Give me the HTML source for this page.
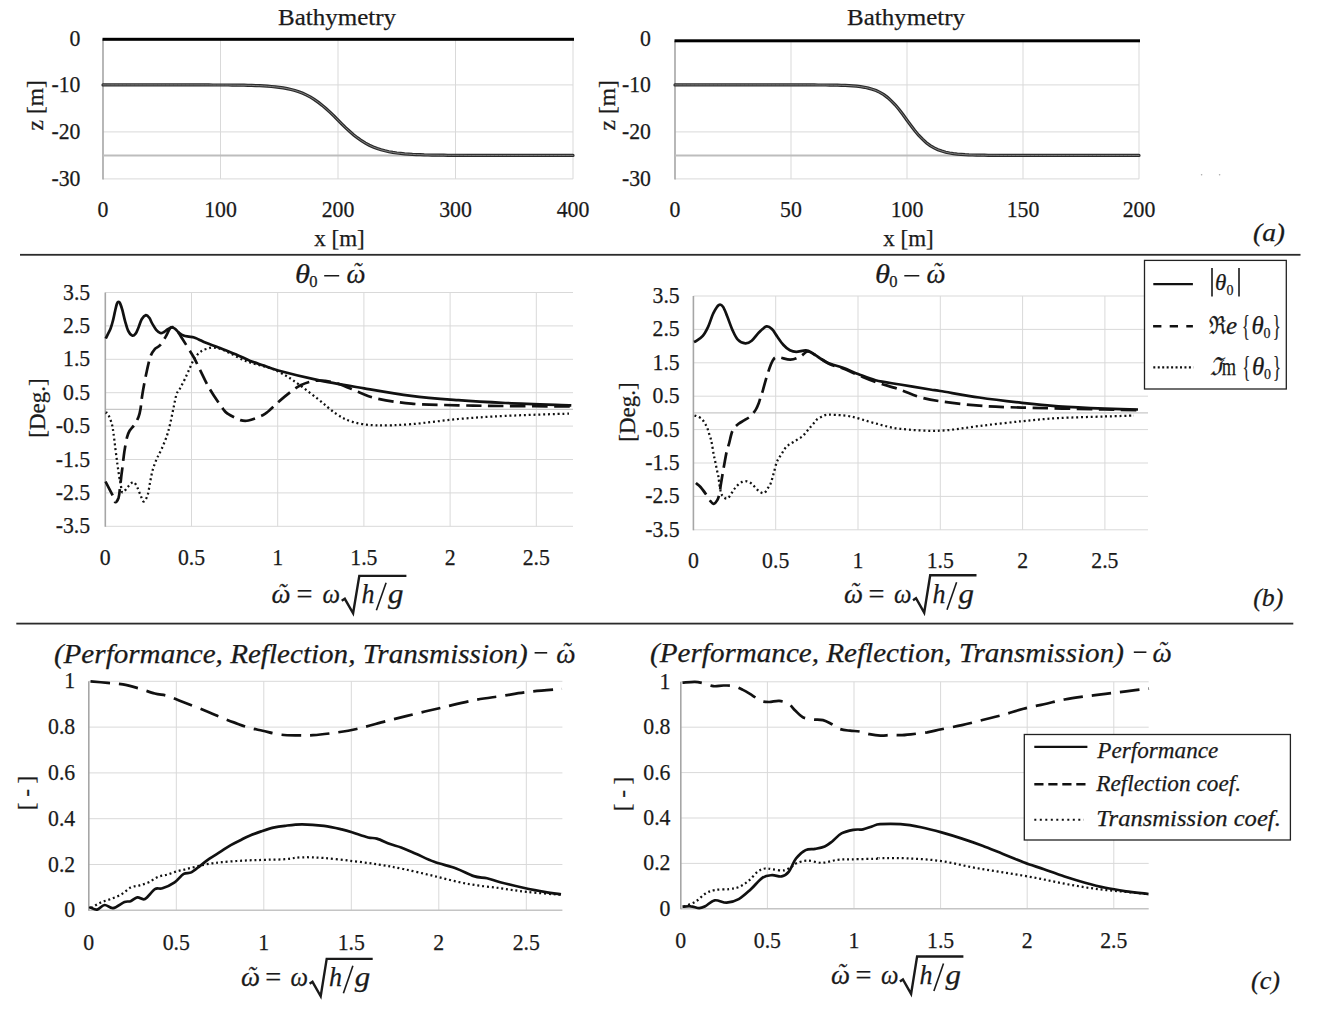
<!DOCTYPE html>
<html><head><meta charset="utf-8"><style>
html,body{margin:0;padding:0;background:#fff;}
svg{display:block;}
text{font-family:"Liberation Serif", serif; stroke:#1a1a1a; stroke-width:0.25px;}
</style></head><body>
<svg width="1317" height="1012" viewBox="0 0 1317 1012" font-family="Liberation Serif, serif">
<rect width="1317" height="1012" fill="#fff"/>
<rect x="20" y="253.9" width="1280.5" height="1.8" fill="#2b2b2b"/>
<rect x="16.3" y="622.7" width="1277" height="1.8" fill="#2b2b2b"/>
<line x1="220.5" y1="39.3" x2="220.5" y2="178.9" stroke="#d9d9d9" stroke-width="1"/>
<line x1="338.0" y1="39.3" x2="338.0" y2="178.9" stroke="#d9d9d9" stroke-width="1"/>
<line x1="455.5" y1="39.3" x2="455.5" y2="178.9" stroke="#d9d9d9" stroke-width="1"/>
<line x1="573.0" y1="39.3" x2="573.0" y2="178.9" stroke="#d9d9d9" stroke-width="1"/>
<line x1="103.0" y1="84.9" x2="573.0" y2="84.9" stroke="#d9d9d9" stroke-width="1"/>
<line x1="103.0" y1="131.9" x2="573.0" y2="131.9" stroke="#d9d9d9" stroke-width="1"/>
<line x1="103.0" y1="178.9" x2="573.0" y2="178.9" stroke="#d9d9d9" stroke-width="1"/>
<line x1="103.0" y1="39.3" x2="103.0" y2="179.4" stroke="#a6a6a6" stroke-width="1.6"/>
<line x1="103.0" y1="155.4" x2="573.0" y2="155.4" stroke="#bdbdbd" stroke-width="2"/>
<path d="M103.0,84.9 L106.9,84.9 L110.8,84.9 L114.8,84.9 L118.7,84.9 L122.6,84.9 L126.5,84.9 L130.4,84.9 L134.3,84.9 L138.2,84.9 L142.2,84.9 L146.1,84.9 L150.0,84.9 L153.9,84.9 L157.8,84.9 L161.8,84.9 L165.7,84.9 L169.6,84.9 L173.5,84.9 L177.4,84.9 L181.3,84.9 L185.2,84.9 L189.2,84.9 L193.1,84.9 L197.0,84.9 L200.9,84.9 L204.8,84.9 L208.8,84.9 L212.7,85.0 L216.6,85.0 L220.5,85.0 L224.4,85.0 L228.3,85.0 L232.2,85.1 L236.2,85.1 L240.1,85.2 L244.0,85.2 L247.9,85.3 L251.8,85.4 L255.8,85.6 L259.7,85.7 L263.6,85.9 L267.5,86.2 L271.4,86.5 L275.3,86.9 L279.2,87.3 L283.2,87.9 L287.1,88.6 L291.0,89.5 L294.9,90.5 L298.8,91.8 L302.8,93.3 L306.7,95.1 L310.6,97.2 L314.5,99.6 L318.4,102.4 L322.3,105.4 L326.2,108.8 L330.2,112.4 L334.1,116.2 L338.0,120.2 L341.9,124.1 L345.8,127.9 L349.8,131.5 L353.7,134.9 L357.6,137.9 L361.5,140.7 L365.4,143.1 L369.3,145.2 L373.2,147.0 L377.2,148.5 L381.1,149.8 L385.0,150.8 L388.9,151.7 L392.8,152.4 L396.8,153.0 L400.7,153.4 L404.6,153.8 L408.5,154.1 L412.4,154.4 L416.3,154.6 L420.2,154.7 L424.2,154.9 L428.1,155.0 L432.0,155.1 L435.9,155.1 L439.8,155.2 L443.8,155.2 L447.7,155.3 L451.6,155.3 L455.5,155.3 L459.4,155.3 L463.3,155.3 L467.2,155.4 L471.2,155.4 L475.1,155.4 L479.0,155.4 L482.9,155.4 L486.8,155.4 L490.8,155.4 L494.7,155.4 L498.6,155.4 L502.5,155.4 L506.4,155.4 L510.3,155.4 L514.2,155.4 L518.2,155.4 L522.1,155.4 L526.0,155.4 L529.9,155.4 L533.8,155.4 L537.8,155.4 L541.7,155.4 L545.6,155.4 L549.5,155.4 L553.4,155.4 L557.3,155.4 L561.2,155.4 L565.2,155.4 L569.1,155.4 L573.0,155.4" fill="none" stroke="#2a2a2a" stroke-width="3.2" stroke-linecap="round"/>
<path d="M103.0,84.9 L106.9,84.9 L110.8,84.9 L114.8,84.9 L118.7,84.9 L122.6,84.9 L126.5,84.9 L130.4,84.9 L134.3,84.9 L138.2,84.9 L142.2,84.9 L146.1,84.9 L150.0,84.9 L153.9,84.9 L157.8,84.9 L161.8,84.9 L165.7,84.9 L169.6,84.9 L173.5,84.9 L177.4,84.9 L181.3,84.9 L185.2,84.9 L189.2,84.9 L193.1,84.9 L197.0,84.9 L200.9,84.9 L204.8,84.9 L208.8,84.9 L212.7,85.0 L216.6,85.0 L220.5,85.0 L224.4,85.0 L228.3,85.0 L232.2,85.1 L236.2,85.1 L240.1,85.2 L244.0,85.2 L247.9,85.3 L251.8,85.4 L255.8,85.6 L259.7,85.7 L263.6,85.9 L267.5,86.2 L271.4,86.5 L275.3,86.9 L279.2,87.3 L283.2,87.9 L287.1,88.6 L291.0,89.5 L294.9,90.5 L298.8,91.8 L302.8,93.3 L306.7,95.1 L310.6,97.2 L314.5,99.6 L318.4,102.4 L322.3,105.4 L326.2,108.8 L330.2,112.4 L334.1,116.2 L338.0,120.2 L341.9,124.1 L345.8,127.9 L349.8,131.5 L353.7,134.9 L357.6,137.9 L361.5,140.7 L365.4,143.1 L369.3,145.2 L373.2,147.0 L377.2,148.5 L381.1,149.8 L385.0,150.8 L388.9,151.7 L392.8,152.4 L396.8,153.0 L400.7,153.4 L404.6,153.8 L408.5,154.1 L412.4,154.4 L416.3,154.6 L420.2,154.7 L424.2,154.9 L428.1,155.0 L432.0,155.1 L435.9,155.1 L439.8,155.2 L443.8,155.2 L447.7,155.3 L451.6,155.3 L455.5,155.3 L459.4,155.3 L463.3,155.3 L467.2,155.4 L471.2,155.4 L475.1,155.4 L479.0,155.4 L482.9,155.4 L486.8,155.4 L490.8,155.4 L494.7,155.4 L498.6,155.4 L502.5,155.4 L506.4,155.4 L510.3,155.4 L514.2,155.4 L518.2,155.4 L522.1,155.4 L526.0,155.4 L529.9,155.4 L533.8,155.4 L537.8,155.4 L541.7,155.4 L545.6,155.4 L549.5,155.4 L553.4,155.4 L557.3,155.4 L561.2,155.4 L565.2,155.4 L569.1,155.4 L573.0,155.4" fill="none" stroke="#8c8c8c" stroke-width="0.9" stroke-linecap="round"/>
<rect x="102.5" y="37.8" width="471.5" height="3.0" fill="#000"/>
<text x="80.5" y="45.6" font-size="23.5" text-anchor="end" textLength="10.9" lengthAdjust="spacingAndGlyphs" fill="#1a1a1a">0</text>
<text x="80.5" y="92.2" font-size="23.5" text-anchor="end" textLength="29.0" lengthAdjust="spacingAndGlyphs" fill="#1a1a1a">-10</text>
<text x="80.5" y="139.2" font-size="23.5" text-anchor="end" textLength="29.0" lengthAdjust="spacingAndGlyphs" fill="#1a1a1a">-20</text>
<text x="80.5" y="186.2" font-size="23.5" text-anchor="end" textLength="29.0" lengthAdjust="spacingAndGlyphs" fill="#1a1a1a">-30</text>
<text x="103.0" y="216.7" font-size="23.5" text-anchor="middle" textLength="10.9" lengthAdjust="spacingAndGlyphs" fill="#1a1a1a">0</text>
<text x="220.5" y="216.7" font-size="23.5" text-anchor="middle" textLength="32.7" lengthAdjust="spacingAndGlyphs" fill="#1a1a1a">100</text>
<text x="338.0" y="216.7" font-size="23.5" text-anchor="middle" textLength="32.7" lengthAdjust="spacingAndGlyphs" fill="#1a1a1a">200</text>
<text x="455.5" y="216.7" font-size="23.5" text-anchor="middle" textLength="32.7" lengthAdjust="spacingAndGlyphs" fill="#1a1a1a">300</text>
<text x="573.0" y="216.7" font-size="23.5" text-anchor="middle" textLength="32.7" lengthAdjust="spacingAndGlyphs" fill="#1a1a1a">400</text>
<text x="339.5" y="245.6" font-size="23" text-anchor="middle" fill="#1a1a1a" >x [m]</text>
<text x="0" y="0" font-size="23.5" text-anchor="middle" fill="#1a1a1a" transform="translate(34.8,105.3) rotate(-90)" dominant-baseline="central">z [m]</text>
<text x="337.0" y="24.8" font-size="24" text-anchor="middle" textLength="118" lengthAdjust="spacingAndGlyphs" fill="#1a1a1a" >Bathymetry</text>
<line x1="791.0" y1="40.8" x2="791.0" y2="178.9" stroke="#d9d9d9" stroke-width="1"/>
<line x1="907.0" y1="40.8" x2="907.0" y2="178.9" stroke="#d9d9d9" stroke-width="1"/>
<line x1="1023.0" y1="40.8" x2="1023.0" y2="178.9" stroke="#d9d9d9" stroke-width="1"/>
<line x1="1139.0" y1="40.8" x2="1139.0" y2="178.9" stroke="#d9d9d9" stroke-width="1"/>
<line x1="675.0" y1="84.9" x2="1139.0" y2="84.9" stroke="#d9d9d9" stroke-width="1"/>
<line x1="675.0" y1="131.9" x2="1139.0" y2="131.9" stroke="#d9d9d9" stroke-width="1"/>
<line x1="675.0" y1="178.9" x2="1139.0" y2="178.9" stroke="#d9d9d9" stroke-width="1"/>
<line x1="675.0" y1="40.8" x2="675.0" y2="179.4" stroke="#a6a6a6" stroke-width="1.6"/>
<line x1="675.0" y1="155.4" x2="1139.0" y2="155.4" stroke="#bdbdbd" stroke-width="2"/>
<path d="M675.0,84.9 L678.9,84.9 L682.7,84.9 L686.6,84.9 L690.5,84.9 L694.3,84.9 L698.2,84.9 L702.1,84.9 L705.9,84.9 L709.8,84.9 L713.7,84.9 L717.5,84.9 L721.4,84.9 L725.3,84.9 L729.1,84.9 L733.0,84.9 L736.9,84.9 L740.7,84.9 L744.6,84.9 L748.5,84.9 L752.3,84.9 L756.2,84.9 L760.1,84.9 L763.9,84.9 L767.8,84.9 L771.7,84.9 L775.5,84.9 L779.4,84.9 L783.3,84.9 L787.1,84.9 L791.0,84.9 L794.9,84.9 L798.7,84.9 L802.6,84.9 L806.5,84.9 L810.3,84.9 L814.2,84.9 L818.1,85.0 L821.9,85.0 L825.8,85.0 L829.7,85.1 L833.5,85.1 L837.4,85.2 L841.3,85.3 L845.1,85.4 L849.0,85.6 L852.9,85.9 L856.7,86.2 L860.6,86.7 L864.5,87.3 L868.3,88.1 L872.2,89.2 L876.1,90.6 L879.9,92.4 L883.8,94.7 L887.7,97.6 L891.5,101.1 L895.4,105.1 L899.3,109.8 L903.1,114.8 L907.0,120.2 L910.9,125.5 L914.7,130.5 L918.6,135.2 L922.5,139.2 L926.3,142.7 L930.2,145.6 L934.1,147.9 L937.9,149.7 L941.8,151.1 L945.7,152.2 L949.5,153.0 L953.4,153.6 L957.3,154.1 L961.1,154.4 L965.0,154.7 L968.9,154.9 L972.7,155.0 L976.6,155.1 L980.5,155.2 L984.3,155.2 L988.2,155.3 L992.1,155.3 L995.9,155.3 L999.8,155.4 L1003.7,155.4 L1007.5,155.4 L1011.4,155.4 L1015.3,155.4 L1019.1,155.4 L1023.0,155.4 L1026.9,155.4 L1030.7,155.4 L1034.6,155.4 L1038.5,155.4 L1042.3,155.4 L1046.2,155.4 L1050.1,155.4 L1053.9,155.4 L1057.8,155.4 L1061.7,155.4 L1065.5,155.4 L1069.4,155.4 L1073.3,155.4 L1077.1,155.4 L1081.0,155.4 L1084.9,155.4 L1088.7,155.4 L1092.6,155.4 L1096.5,155.4 L1100.3,155.4 L1104.2,155.4 L1108.1,155.4 L1111.9,155.4 L1115.8,155.4 L1119.7,155.4 L1123.5,155.4 L1127.4,155.4 L1131.3,155.4 L1135.1,155.4 L1139.0,155.4" fill="none" stroke="#2a2a2a" stroke-width="3.2" stroke-linecap="round"/>
<path d="M675.0,84.9 L678.9,84.9 L682.7,84.9 L686.6,84.9 L690.5,84.9 L694.3,84.9 L698.2,84.9 L702.1,84.9 L705.9,84.9 L709.8,84.9 L713.7,84.9 L717.5,84.9 L721.4,84.9 L725.3,84.9 L729.1,84.9 L733.0,84.9 L736.9,84.9 L740.7,84.9 L744.6,84.9 L748.5,84.9 L752.3,84.9 L756.2,84.9 L760.1,84.9 L763.9,84.9 L767.8,84.9 L771.7,84.9 L775.5,84.9 L779.4,84.9 L783.3,84.9 L787.1,84.9 L791.0,84.9 L794.9,84.9 L798.7,84.9 L802.6,84.9 L806.5,84.9 L810.3,84.9 L814.2,84.9 L818.1,85.0 L821.9,85.0 L825.8,85.0 L829.7,85.1 L833.5,85.1 L837.4,85.2 L841.3,85.3 L845.1,85.4 L849.0,85.6 L852.9,85.9 L856.7,86.2 L860.6,86.7 L864.5,87.3 L868.3,88.1 L872.2,89.2 L876.1,90.6 L879.9,92.4 L883.8,94.7 L887.7,97.6 L891.5,101.1 L895.4,105.1 L899.3,109.8 L903.1,114.8 L907.0,120.2 L910.9,125.5 L914.7,130.5 L918.6,135.2 L922.5,139.2 L926.3,142.7 L930.2,145.6 L934.1,147.9 L937.9,149.7 L941.8,151.1 L945.7,152.2 L949.5,153.0 L953.4,153.6 L957.3,154.1 L961.1,154.4 L965.0,154.7 L968.9,154.9 L972.7,155.0 L976.6,155.1 L980.5,155.2 L984.3,155.2 L988.2,155.3 L992.1,155.3 L995.9,155.3 L999.8,155.4 L1003.7,155.4 L1007.5,155.4 L1011.4,155.4 L1015.3,155.4 L1019.1,155.4 L1023.0,155.4 L1026.9,155.4 L1030.7,155.4 L1034.6,155.4 L1038.5,155.4 L1042.3,155.4 L1046.2,155.4 L1050.1,155.4 L1053.9,155.4 L1057.8,155.4 L1061.7,155.4 L1065.5,155.4 L1069.4,155.4 L1073.3,155.4 L1077.1,155.4 L1081.0,155.4 L1084.9,155.4 L1088.7,155.4 L1092.6,155.4 L1096.5,155.4 L1100.3,155.4 L1104.2,155.4 L1108.1,155.4 L1111.9,155.4 L1115.8,155.4 L1119.7,155.4 L1123.5,155.4 L1127.4,155.4 L1131.3,155.4 L1135.1,155.4 L1139.0,155.4" fill="none" stroke="#8c8c8c" stroke-width="0.9" stroke-linecap="round"/>
<rect x="674.5" y="39.3" width="465.5" height="3.0" fill="#000"/>
<text x="651.0" y="45.6" font-size="23.5" text-anchor="end" textLength="10.9" lengthAdjust="spacingAndGlyphs" fill="#1a1a1a">0</text>
<text x="651.0" y="92.2" font-size="23.5" text-anchor="end" textLength="29.0" lengthAdjust="spacingAndGlyphs" fill="#1a1a1a">-10</text>
<text x="651.0" y="139.2" font-size="23.5" text-anchor="end" textLength="29.0" lengthAdjust="spacingAndGlyphs" fill="#1a1a1a">-20</text>
<text x="651.0" y="186.2" font-size="23.5" text-anchor="end" textLength="29.0" lengthAdjust="spacingAndGlyphs" fill="#1a1a1a">-30</text>
<text x="675.0" y="216.7" font-size="23.5" text-anchor="middle" textLength="10.9" lengthAdjust="spacingAndGlyphs" fill="#1a1a1a">0</text>
<text x="791.0" y="216.7" font-size="23.5" text-anchor="middle" textLength="21.8" lengthAdjust="spacingAndGlyphs" fill="#1a1a1a">50</text>
<text x="907.0" y="216.7" font-size="23.5" text-anchor="middle" textLength="32.7" lengthAdjust="spacingAndGlyphs" fill="#1a1a1a">100</text>
<text x="1023.0" y="216.7" font-size="23.5" text-anchor="middle" textLength="32.7" lengthAdjust="spacingAndGlyphs" fill="#1a1a1a">150</text>
<text x="1139.0" y="216.7" font-size="23.5" text-anchor="middle" textLength="32.7" lengthAdjust="spacingAndGlyphs" fill="#1a1a1a">200</text>
<text x="908.5" y="245.6" font-size="23" text-anchor="middle" fill="#1a1a1a" >x [m]</text>
<text x="0" y="0" font-size="23.5" text-anchor="middle" fill="#1a1a1a" transform="translate(606.8,105.3) rotate(-90)" dominant-baseline="central">z [m]</text>
<text x="906.0" y="24.8" font-size="24" text-anchor="middle" textLength="118" lengthAdjust="spacingAndGlyphs" fill="#1a1a1a" >Bathymetry</text>
<text x="1253.0" y="240.5" font-size="25" text-anchor="start" font-style="italic" textLength="32" lengthAdjust="spacingAndGlyphs" fill="#1a1a1a" >(a)</text>
<circle cx="1201.6" cy="174.7" r="0.8" fill="#aaa"/><circle cx="1219.6" cy="174.7" r="0.8" fill="#aaa"/>
<line x1="191.5" y1="292.5" x2="191.5" y2="526.3" stroke="#d9d9d9" stroke-width="1"/>
<line x1="277.7" y1="292.5" x2="277.7" y2="526.3" stroke="#d9d9d9" stroke-width="1"/>
<line x1="363.9" y1="292.5" x2="363.9" y2="526.3" stroke="#d9d9d9" stroke-width="1"/>
<line x1="450.1" y1="292.5" x2="450.1" y2="526.3" stroke="#d9d9d9" stroke-width="1"/>
<line x1="536.3" y1="292.5" x2="536.3" y2="526.3" stroke="#d9d9d9" stroke-width="1"/>
<line x1="105.3" y1="292.5" x2="573.0" y2="292.5" stroke="#d9d9d9" stroke-width="1"/>
<line x1="105.3" y1="325.9" x2="573.0" y2="325.9" stroke="#d9d9d9" stroke-width="1"/>
<line x1="105.3" y1="359.3" x2="573.0" y2="359.3" stroke="#d9d9d9" stroke-width="1"/>
<line x1="105.3" y1="392.7" x2="573.0" y2="392.7" stroke="#d9d9d9" stroke-width="1"/>
<line x1="105.3" y1="426.1" x2="573.0" y2="426.1" stroke="#d9d9d9" stroke-width="1"/>
<line x1="105.3" y1="459.5" x2="573.0" y2="459.5" stroke="#d9d9d9" stroke-width="1"/>
<line x1="105.3" y1="492.9" x2="573.0" y2="492.9" stroke="#d9d9d9" stroke-width="1"/>
<line x1="105.3" y1="526.3" x2="573.0" y2="526.3" stroke="#d9d9d9" stroke-width="1"/>
<line x1="105.3" y1="409.4" x2="573.0" y2="409.4" stroke="#c8c8c8" stroke-width="1.2"/>
<line x1="105.3" y1="292.5" x2="105.3" y2="526.8" stroke="#a6a6a6" stroke-width="1.6"/>
<text x="90.2" y="299.5" font-size="23.5" text-anchor="end" textLength="27.2" lengthAdjust="spacingAndGlyphs" fill="#1a1a1a">3.5</text>
<text x="90.2" y="332.9" font-size="23.5" text-anchor="end" textLength="27.2" lengthAdjust="spacingAndGlyphs" fill="#1a1a1a">2.5</text>
<text x="90.2" y="366.3" font-size="23.5" text-anchor="end" textLength="27.2" lengthAdjust="spacingAndGlyphs" fill="#1a1a1a">1.5</text>
<text x="90.2" y="399.7" font-size="23.5" text-anchor="end" textLength="27.2" lengthAdjust="spacingAndGlyphs" fill="#1a1a1a">0.5</text>
<text x="90.2" y="433.1" font-size="23.5" text-anchor="end" textLength="34.5" lengthAdjust="spacingAndGlyphs" fill="#1a1a1a">-0.5</text>
<text x="90.2" y="466.5" font-size="23.5" text-anchor="end" textLength="34.5" lengthAdjust="spacingAndGlyphs" fill="#1a1a1a">-1.5</text>
<text x="90.2" y="499.9" font-size="23.5" text-anchor="end" textLength="34.5" lengthAdjust="spacingAndGlyphs" fill="#1a1a1a">-2.5</text>
<text x="90.2" y="533.3" font-size="23.5" text-anchor="end" textLength="34.5" lengthAdjust="spacingAndGlyphs" fill="#1a1a1a">-3.5</text>
<text x="105.3" y="564.8" font-size="23.5" text-anchor="middle" textLength="10.9" lengthAdjust="spacingAndGlyphs" fill="#1a1a1a">0</text>
<text x="191.5" y="564.8" font-size="23.5" text-anchor="middle" textLength="27.2" lengthAdjust="spacingAndGlyphs" fill="#1a1a1a">0.5</text>
<text x="277.7" y="564.8" font-size="23.5" text-anchor="middle" textLength="10.9" lengthAdjust="spacingAndGlyphs" fill="#1a1a1a">1</text>
<text x="363.9" y="564.8" font-size="23.5" text-anchor="middle" textLength="27.2" lengthAdjust="spacingAndGlyphs" fill="#1a1a1a">1.5</text>
<text x="450.1" y="564.8" font-size="23.5" text-anchor="middle" textLength="10.9" lengthAdjust="spacingAndGlyphs" fill="#1a1a1a">2</text>
<text x="536.3" y="564.8" font-size="23.5" text-anchor="middle" textLength="27.2" lengthAdjust="spacingAndGlyphs" fill="#1a1a1a">2.5</text>
<text x="0" y="0" font-size="23" text-anchor="middle" fill="#1a1a1a" transform="translate(37.6,408.0) rotate(-90)" dominant-baseline="central">[Deg.]</text>
<line x1="775.7" y1="296.0" x2="775.7" y2="529.8" stroke="#d9d9d9" stroke-width="1"/>
<line x1="858.0" y1="296.0" x2="858.0" y2="529.8" stroke="#d9d9d9" stroke-width="1"/>
<line x1="940.3" y1="296.0" x2="940.3" y2="529.8" stroke="#d9d9d9" stroke-width="1"/>
<line x1="1022.6" y1="296.0" x2="1022.6" y2="529.8" stroke="#d9d9d9" stroke-width="1"/>
<line x1="1104.9" y1="296.0" x2="1104.9" y2="529.8" stroke="#d9d9d9" stroke-width="1"/>
<line x1="693.4" y1="296.0" x2="1148.0" y2="296.0" stroke="#d9d9d9" stroke-width="1"/>
<line x1="693.4" y1="329.4" x2="1148.0" y2="329.4" stroke="#d9d9d9" stroke-width="1"/>
<line x1="693.4" y1="362.8" x2="1148.0" y2="362.8" stroke="#d9d9d9" stroke-width="1"/>
<line x1="693.4" y1="396.2" x2="1148.0" y2="396.2" stroke="#d9d9d9" stroke-width="1"/>
<line x1="693.4" y1="429.6" x2="1148.0" y2="429.6" stroke="#d9d9d9" stroke-width="1"/>
<line x1="693.4" y1="463.0" x2="1148.0" y2="463.0" stroke="#d9d9d9" stroke-width="1"/>
<line x1="693.4" y1="496.4" x2="1148.0" y2="496.4" stroke="#d9d9d9" stroke-width="1"/>
<line x1="693.4" y1="529.8" x2="1148.0" y2="529.8" stroke="#d9d9d9" stroke-width="1"/>
<line x1="693.4" y1="412.9" x2="1148.0" y2="412.9" stroke="#c8c8c8" stroke-width="1.2"/>
<line x1="693.4" y1="296.0" x2="693.4" y2="530.3" stroke="#a6a6a6" stroke-width="1.6"/>
<text x="679.7" y="303.0" font-size="23.5" text-anchor="end" textLength="27.2" lengthAdjust="spacingAndGlyphs" fill="#1a1a1a">3.5</text>
<text x="679.7" y="336.4" font-size="23.5" text-anchor="end" textLength="27.2" lengthAdjust="spacingAndGlyphs" fill="#1a1a1a">2.5</text>
<text x="679.7" y="369.8" font-size="23.5" text-anchor="end" textLength="27.2" lengthAdjust="spacingAndGlyphs" fill="#1a1a1a">1.5</text>
<text x="679.7" y="403.2" font-size="23.5" text-anchor="end" textLength="27.2" lengthAdjust="spacingAndGlyphs" fill="#1a1a1a">0.5</text>
<text x="679.7" y="436.6" font-size="23.5" text-anchor="end" textLength="34.5" lengthAdjust="spacingAndGlyphs" fill="#1a1a1a">-0.5</text>
<text x="679.7" y="470.0" font-size="23.5" text-anchor="end" textLength="34.5" lengthAdjust="spacingAndGlyphs" fill="#1a1a1a">-1.5</text>
<text x="679.7" y="503.4" font-size="23.5" text-anchor="end" textLength="34.5" lengthAdjust="spacingAndGlyphs" fill="#1a1a1a">-2.5</text>
<text x="679.7" y="536.8" font-size="23.5" text-anchor="end" textLength="34.5" lengthAdjust="spacingAndGlyphs" fill="#1a1a1a">-3.5</text>
<text x="693.4" y="568.3" font-size="23.5" text-anchor="middle" textLength="10.9" lengthAdjust="spacingAndGlyphs" fill="#1a1a1a">0</text>
<text x="775.7" y="568.3" font-size="23.5" text-anchor="middle" textLength="27.2" lengthAdjust="spacingAndGlyphs" fill="#1a1a1a">0.5</text>
<text x="858.0" y="568.3" font-size="23.5" text-anchor="middle" textLength="10.9" lengthAdjust="spacingAndGlyphs" fill="#1a1a1a">1</text>
<text x="940.3" y="568.3" font-size="23.5" text-anchor="middle" textLength="27.2" lengthAdjust="spacingAndGlyphs" fill="#1a1a1a">1.5</text>
<text x="1022.6" y="568.3" font-size="23.5" text-anchor="middle" textLength="10.9" lengthAdjust="spacingAndGlyphs" fill="#1a1a1a">2</text>
<text x="1104.9" y="568.3" font-size="23.5" text-anchor="middle" textLength="27.2" lengthAdjust="spacingAndGlyphs" fill="#1a1a1a">2.5</text>
<text x="0" y="0" font-size="23" text-anchor="middle" fill="#1a1a1a" transform="translate(627.0,412.0) rotate(-90)" dominant-baseline="central">[Deg.]</text>
<path d="M105.5,413.0 C105.9,413.1 106.7,411.8 107.7,413.5 C108.7,415.2 110.6,419.8 111.6,423.1 C112.6,426.4 112.9,429.1 113.5,433.4 C114.1,437.7 114.8,443.6 115.4,448.8 C116.1,454.0 116.8,459.6 117.4,464.3 C118.1,469.0 118.8,473.9 119.3,477.1 C119.8,480.3 120.1,480.9 120.6,483.5 C121.1,486.1 121.4,491.8 122.5,492.5 C123.6,493.2 125.6,489.5 127.0,488.0 C128.4,486.5 129.6,484.4 130.8,483.5 C132.0,482.6 133.0,481.7 134.1,482.3 C135.2,482.9 136.2,485.3 137.3,487.4 C138.4,489.5 139.4,492.8 140.5,495.1 C141.6,497.5 142.5,501.5 143.7,501.5 C144.9,501.5 146.5,498.3 147.6,495.1 C148.7,491.9 149.2,486.5 150.1,482.3 C150.9,478.1 151.6,473.9 152.7,470.0 C153.8,466.1 155.1,462.6 156.6,459.1 C158.1,455.6 160.0,452.7 161.7,448.8 C163.4,444.9 165.4,440.1 166.8,436.0 C168.2,431.9 168.9,428.9 170.0,424.4 C171.1,419.9 172.2,414.0 173.3,409.0 C174.4,404.0 175.4,397.7 176.5,394.3 C177.6,390.9 178.7,390.9 180.0,388.5 C181.3,386.1 182.9,383.1 184.4,380.0 C185.9,376.9 187.4,373.4 188.9,370.2 C190.4,366.9 191.8,363.2 193.3,360.5 C194.8,357.8 196.3,355.8 197.8,354.2 C199.3,352.6 200.7,351.6 202.2,350.7 C203.7,349.8 204.8,349.4 206.7,348.9 C208.6,348.4 210.8,347.3 213.8,347.6 C216.8,347.9 219.0,348.2 224.5,350.5 C230.0,352.8 239.1,358.5 246.7,361.4 C254.3,364.3 264.3,366.1 270.0,368.0 C275.7,369.9 277.1,370.9 281.0,373.0 C284.9,375.1 287.5,376.4 293.5,380.6 C299.5,384.8 310.0,392.8 317.1,398.3 C324.2,403.8 330.0,409.7 335.9,413.6 C341.8,417.5 345.7,419.9 352.4,421.8 C359.1,423.8 366.1,424.9 375.9,425.3 C385.7,425.7 397.5,425.2 411.2,424.2 C424.9,423.1 442.6,420.4 458.3,419.0 C474.0,417.6 486.9,416.8 505.4,415.9 C523.9,415.0 558.4,414.0 569.0,413.6" fill="none" stroke="#111" stroke-width="2.25" stroke-dasharray="1.95 2.85" stroke-linecap="butt"/>
<path d="M105.5,481.5 C106.7,483.9 111.2,492.4 112.9,495.8 C114.6,499.2 114.5,501.9 115.4,502.2 C116.4,502.5 117.8,499.9 118.6,497.7 C119.3,495.4 119.5,492.1 119.9,488.7 C120.3,485.3 120.8,480.8 121.2,477.1 C121.6,473.5 122.0,471.1 122.5,466.8 C123.0,462.5 123.7,456.3 124.4,451.4 C125.2,446.5 126.1,440.7 127.0,437.3 C127.9,433.9 128.3,433.0 129.6,430.8 C130.9,428.6 133.2,426.8 134.7,424.4 C136.2,422.0 137.6,419.3 138.6,416.7 C139.6,414.1 139.9,412.7 140.5,409.0 C141.1,405.3 141.4,400.4 142.4,394.3 C143.4,388.2 145.1,378.9 146.5,372.5 C147.9,366.1 149.2,360.0 150.6,356.1 C152.0,352.2 153.1,351.0 154.7,349.2 C156.3,347.4 158.3,347.2 160.1,345.1 C161.9,343.1 163.8,339.8 165.6,336.9 C167.4,333.9 169.3,328.5 171.1,327.4 C172.9,326.3 174.7,328.3 176.5,330.1 C178.3,331.9 179.2,333.9 182.0,338.3 C184.8,342.7 190.3,351.2 193.3,356.5 C196.3,361.8 197.2,364.2 200.0,369.8 C202.8,375.4 206.3,383.3 210.2,389.8 C214.0,396.3 220.1,405.0 223.1,409.0 C226.1,413.0 225.1,411.9 228.0,413.8 C230.9,415.7 237.1,419.0 240.5,420.1 C243.9,421.2 244.8,421.3 248.5,420.5 C252.2,419.7 259.3,416.8 262.7,415.2 C266.1,413.6 265.4,413.7 269.0,410.7 C272.6,407.7 278.8,401.3 284.1,397.1 C289.4,392.9 295.1,388.1 300.6,385.3 C306.1,382.6 311.2,381.0 317.1,380.6 C323.0,380.2 328.8,381.0 335.9,383.0 C343.0,385.0 352.8,389.8 359.5,392.4 C366.2,394.9 367.3,396.4 375.9,398.3 C384.5,400.2 397.5,402.5 411.2,403.7 C424.9,404.9 442.6,404.9 458.3,405.3 C474.0,405.7 486.6,405.8 505.4,406.0 C524.2,406.2 560.3,406.4 571.3,406.5" fill="none" stroke="#111" stroke-width="2.7" stroke-dasharray="15.5 6.5" stroke-linecap="butt"/>
<path d="M105.6,338.5 C105.8,338.1 106.0,338.1 106.8,336.4 C107.6,334.7 109.6,331.0 110.6,328.4 C111.6,325.8 112.2,323.7 112.9,320.8 C113.7,317.9 114.4,313.9 115.1,311.0 C115.8,308.1 116.4,304.9 117.0,303.4 C117.6,301.9 118.1,301.8 118.6,301.8 C119.1,301.8 119.5,302.0 120.1,303.4 C120.7,304.8 121.6,307.3 122.4,310.2 C123.2,313.1 124.0,317.4 125.0,320.8 C126.0,324.2 126.9,328.2 128.1,330.7 C129.3,333.2 130.9,335.1 132.2,335.6 C133.4,336.1 134.5,335.1 135.6,333.7 C136.7,332.2 137.7,329.3 138.7,326.9 C139.7,324.5 140.5,321.3 141.7,319.3 C142.9,317.3 144.6,315.4 145.9,315.1 C147.2,314.9 148.2,316.3 149.3,317.8 C150.4,319.3 151.2,321.9 152.4,323.9 C153.6,325.9 154.9,328.4 156.2,329.9 C157.5,331.4 159.1,332.6 160.3,333.0 C161.6,333.4 162.5,332.8 163.7,332.2 C164.9,331.6 166.2,330.3 167.5,329.5 C168.8,328.7 170.4,327.4 171.7,327.3 C173.0,327.2 173.9,327.9 175.1,328.8 C176.3,329.7 177.5,331.5 178.9,332.6 C180.3,333.7 181.8,334.9 183.5,335.6 C185.2,336.3 187.0,336.3 188.8,336.6 C190.6,336.9 192.4,337.0 194.1,337.5 C195.8,338.0 196.6,338.5 198.7,339.4 C200.8,340.3 202.5,341.5 206.6,343.1 C210.7,344.7 218.0,347.3 223.0,349.2 C228.0,351.1 232.1,352.8 236.7,354.7 C241.2,356.6 245.8,359.1 250.3,360.9 C254.9,362.7 259.4,364.0 264.0,365.6 C268.6,367.2 269.3,368.1 278.2,370.5 C287.1,372.9 302.8,376.9 317.1,379.9 C331.4,382.9 348.5,385.7 364.2,388.4 C379.9,391.1 395.5,393.9 411.2,395.9 C426.9,397.9 442.6,399.0 458.3,400.2 C474.0,401.4 486.6,402.1 505.4,403.0 C524.2,403.9 560.3,404.9 571.3,405.3" fill="none" stroke="#111" stroke-width="2.7" stroke-linejoin="round"/>
<path d="M694.5,415.5 C694.8,415.6 695.4,415.6 696.5,416.1 C697.6,416.6 699.9,417.2 701.3,418.4 C702.7,419.6 703.8,421.6 704.8,423.2 C705.8,424.8 706.5,426.2 707.2,427.9 C707.9,429.6 708.4,431.5 709.0,433.3 C709.6,435.1 710.2,436.8 710.7,438.6 C711.2,440.4 711.4,441.2 711.9,443.9 C712.4,446.6 713.2,451.9 713.7,454.6 C714.2,457.3 714.5,458.0 714.9,459.9 C715.3,461.8 715.7,463.9 716.1,465.9 C716.5,467.9 716.9,470.0 717.3,471.8 C717.7,473.6 718.1,474.9 718.4,476.5 C718.7,478.1 718.6,478.7 719.0,481.3 C719.4,483.9 720.1,489.3 720.8,491.9 C721.5,494.5 722.1,495.6 723.2,496.7 C724.3,497.8 726.0,498.9 727.3,498.5 C728.6,498.1 729.8,495.8 730.9,494.3 C732.0,492.8 732.8,491.1 733.9,489.6 C735.0,488.1 736.0,486.7 737.4,485.4 C738.8,484.1 740.6,482.6 742.2,481.9 C743.8,481.2 745.3,481.0 746.9,481.3 C748.5,481.6 750.2,482.6 751.6,483.6 C753.0,484.6 753.9,485.9 755.2,487.2 C756.5,488.5 757.8,490.4 759.3,491.4 C760.8,492.4 762.7,493.6 764.1,493.1 C765.5,492.6 766.5,490.0 767.6,488.4 C768.7,486.8 769.6,486.1 770.6,483.6 C771.6,481.1 772.6,477.1 773.6,473.6 C774.6,470.2 775.6,465.5 776.5,462.9 C777.4,460.3 778.0,459.8 778.9,458.2 C779.8,456.6 780.9,455.0 781.9,453.4 C782.9,451.8 783.7,450.1 784.8,448.7 C785.9,447.3 787.0,446.2 788.4,445.1 C789.8,444.0 791.5,443.2 793.1,442.2 C794.7,441.2 796.3,440.2 797.9,439.2 C799.5,438.2 801.2,437.4 802.6,436.2 C804.0,435.0 805.0,433.5 806.2,432.1 C807.4,430.7 808.5,429.3 809.7,427.9 C810.9,426.5 812.1,425.2 813.3,423.8 C814.5,422.4 815.4,420.8 816.8,419.6 C818.2,418.4 820.0,417.5 821.6,416.7 C823.2,415.9 824.5,415.2 826.3,414.9 C828.1,414.6 828.2,414.6 832.3,414.8 C836.3,415.1 843.8,415.1 850.6,416.4 C857.4,417.7 865.1,420.7 873.3,422.8 C881.5,424.9 888.9,427.5 900.0,428.8 C911.1,430.1 927.0,431.2 940.2,430.7 C953.4,430.2 965.6,427.6 979.2,426.0 C992.8,424.4 1008.7,422.5 1021.9,421.2 C1035.1,419.9 1044.5,418.9 1058.3,418.1 C1072.1,417.3 1092.3,416.9 1104.9,416.5 C1117.5,416.1 1129.2,415.7 1134.0,415.5" fill="none" stroke="#111" stroke-width="2.25" stroke-dasharray="1.95 2.85" stroke-linecap="butt"/>
<path d="M695.9,483.1 C696.7,483.8 698.8,485.1 700.5,487.0 C702.2,488.9 704.3,491.9 706.0,494.3 C707.7,496.7 709.4,499.8 710.7,501.4 C712.0,503.0 712.6,504.0 713.7,503.8 C714.8,503.6 716.3,502.0 717.3,500.2 C718.3,498.4 719.0,495.7 719.6,493.1 C720.2,490.5 720.1,489.2 720.8,484.8 C721.5,480.4 722.8,472.5 723.8,467.0 C724.8,461.5 725.8,455.6 726.7,451.6 C727.6,447.7 728.1,446.9 729.1,443.3 C730.1,439.8 731.1,433.6 732.7,430.3 C734.3,427.1 736.6,425.5 738.6,423.8 C740.6,422.1 742.5,421.5 744.5,420.2 C746.5,418.9 748.6,417.9 750.5,416.1 C752.4,414.3 754.4,411.8 755.8,409.6 C757.2,407.4 757.9,405.4 758.8,403.0 C759.7,400.6 760.4,397.4 761.1,395.3 C761.8,393.2 761.8,394.1 762.9,390.3 C764.0,386.6 766.2,377.8 767.9,372.8 C769.6,367.8 771.2,362.8 772.9,360.2 C774.6,357.6 775.0,357.3 777.9,357.2 C780.8,357.1 786.6,359.8 790.4,359.7 C794.2,359.6 797.6,357.9 800.5,356.5 C803.4,355.1 805.1,351.4 808.0,351.5 C810.9,351.6 814.2,354.8 818.0,357.0 C821.8,359.2 826.3,362.6 830.5,364.5 C834.7,366.4 838.4,366.8 843.0,368.5 C847.6,370.2 852.7,372.8 858.1,375.0 C863.5,377.2 868.6,379.6 875.6,382.0 C882.6,384.4 892.8,387.1 900.0,389.6 C907.2,392.1 912.3,394.9 919.0,396.9 C925.7,398.8 930.2,399.8 940.2,401.3 C950.2,402.8 965.6,404.6 979.2,405.7 C992.8,406.8 1000.9,407.0 1021.9,407.6 C1042.8,408.2 1085.6,409.1 1104.9,409.5 C1124.2,409.9 1132.5,410.1 1138.0,410.2" fill="none" stroke="#111" stroke-width="2.7" stroke-dasharray="15.5 6.5" stroke-linecap="butt"/>
<path d="M694.0,342.0 C694.4,341.8 694.9,341.9 696.4,340.9 C697.9,339.9 700.8,338.2 702.8,335.9 C704.8,333.6 706.3,330.7 708.1,326.9 C709.9,323.1 711.6,316.7 713.4,313.1 C715.2,309.5 717.1,306.2 718.7,305.1 C720.3,304.0 721.6,304.8 723.0,306.7 C724.4,308.6 725.6,312.4 727.2,316.3 C728.8,320.2 730.7,326.2 732.5,330.1 C734.3,334.0 735.7,337.4 737.8,339.6 C739.9,341.8 743.0,343.2 745.3,343.4 C747.6,343.6 749.4,342.6 751.7,340.7 C754.0,338.8 756.6,334.6 759.1,332.2 C761.6,329.8 764.4,326.9 766.5,326.4 C768.6,325.9 770.1,327.3 771.9,329.0 C773.7,330.7 775.3,333.8 777.2,336.5 C779.1,339.2 781.4,342.7 783.5,345.0 C785.6,347.3 787.8,349.2 789.9,350.3 C792.0,351.4 793.6,351.9 796.3,351.9 C799.0,351.9 803.2,350.1 805.9,350.3 C808.5,350.5 809.7,351.5 812.2,352.9 C814.7,354.3 818.1,357.1 820.8,358.8 C823.5,360.5 824.5,361.5 828.2,363.0 C831.9,364.5 838.0,366.0 843.0,367.8 C848.0,369.6 852.7,371.9 858.1,374.0 C863.5,376.1 868.6,378.6 875.6,380.3 C882.6,382.1 890.9,383.0 900.0,384.5 C909.1,386.0 923.3,388.4 930.0,389.5 C936.7,390.6 932.0,389.7 940.2,391.0 C948.4,392.3 965.6,395.5 979.2,397.5 C992.8,399.5 1008.7,401.4 1021.9,402.9 C1035.1,404.4 1044.5,405.4 1058.3,406.4 C1072.1,407.3 1091.6,408.1 1104.9,408.6 C1118.2,409.1 1132.5,409.4 1138.0,409.5" fill="none" stroke="#111" stroke-width="2.7" stroke-linejoin="round"/>
<g fill="#1a1a1a" font-size="27">
<text x="295.0" y="283.0" font-style="italic" textLength="15" lengthAdjust="spacingAndGlyphs">θ</text>
<text x="309.2" y="286.5" font-size="16.5">0</text>
<rect x="324.2" y="275.0" width="15" height="1.5"/>
<text x="346.5" y="283.0" font-style="italic" textLength="19" lengthAdjust="spacingAndGlyphs">ω</text>
<text x="353.0" y="279.0" font-size="24" font-style="italic">˜</text>
</g>
<g fill="#1a1a1a" font-size="27">
<text x="875.1" y="283.0" font-style="italic" textLength="15" lengthAdjust="spacingAndGlyphs">θ</text>
<text x="889.3" y="286.5" font-size="16.5">0</text>
<rect x="904.3" y="275.0" width="15" height="1.5"/>
<text x="926.6" y="283.0" font-style="italic" textLength="19" lengthAdjust="spacingAndGlyphs">ω</text>
<text x="933.1" y="279.0" font-size="24" font-style="italic">˜</text>
</g>
<g fill="#1a1a1a" font-size="27">
<text x="271.5" y="603.3" font-style="italic" textLength="19" lengthAdjust="spacingAndGlyphs">ω</text>
<text x="278.0" y="599.8" font-size="24" font-style="italic">˜</text>
<text x="296.4" y="603.3" textLength="16" lengthAdjust="spacingAndGlyphs">=</text>
<text x="322.4" y="603.3" font-style="italic" textLength="17.5" lengthAdjust="spacingAndGlyphs">ω</text>
<path d="M341.7,600.8 L344.8,598.8 L353.1,613.3 L359.3,575.9 L406.4,575.9" fill="none" stroke="#1a1a1a" stroke-width="2.4"/>
<text x="361.6" y="603.3" font-style="italic" textLength="13" lengthAdjust="spacingAndGlyphs">h</text>
<path d="M376.4,610.3 L386.1,582.8" stroke="#1a1a1a" stroke-width="1.6"/>
<text x="388.1" y="603.3" font-style="italic" textLength="15.5" lengthAdjust="spacingAndGlyphs">g</text>
</g>
<g fill="#1a1a1a" font-size="27">
<text x="844.0" y="602.7" font-style="italic" textLength="19" lengthAdjust="spacingAndGlyphs">ω</text>
<text x="850.5" y="599.2" font-size="24" font-style="italic">˜</text>
<text x="868.5" y="602.7" textLength="16" lengthAdjust="spacingAndGlyphs">=</text>
<text x="894.0" y="602.7" font-style="italic" textLength="17.5" lengthAdjust="spacingAndGlyphs">ω</text>
<path d="M913.0,600.2 L916.0,598.2 L924.2,612.7 L930.2,575.3 L976.5,575.3" fill="none" stroke="#1a1a1a" stroke-width="2.4"/>
<text x="932.5" y="602.7" font-style="italic" textLength="13" lengthAdjust="spacingAndGlyphs">h</text>
<path d="M947.0,609.7 L956.6,582.2" stroke="#1a1a1a" stroke-width="1.6"/>
<text x="958.5" y="602.7" font-style="italic" textLength="15.5" lengthAdjust="spacingAndGlyphs">g</text>
</g>
<text x="1253.3" y="605.5" font-size="25" text-anchor="start" font-style="italic" textLength="30" lengthAdjust="spacingAndGlyphs" fill="#1a1a1a" >(b)</text>
<rect x="1144.5" y="260.4" width="141.8" height="128.6" fill="#fff" stroke="#222" stroke-width="1.3"/>
<line x1="1153.3" y1="284.1" x2="1192.9" y2="284.1" stroke="#111" stroke-width="2.3"/>
<line x1="1153.1" y1="326.2" x2="1192.9" y2="326.2" stroke="#111" stroke-width="2.6" stroke-dasharray="8.3 8.3"/>
<line x1="1153.3" y1="367.4" x2="1193.5" y2="367.4" stroke="#111" stroke-width="2.2" stroke-dasharray="2 2.45"/>
<g fill="#1a1a1a" font-size="25">
<rect x="1211.2" y="268" width="1.6" height="28.5"/><rect x="1238.2" y="268" width="1.6" height="28.5"/>
<text x="1215" y="290" font-style="italic" font-size="23">θ</text><text x="1226.5" y="294.5" font-size="14">0</text>
<text x="1209" y="334" textLength="17" lengthAdjust="spacingAndGlyphs">ℜ</text><text x="1226" y="334" font-style="italic">e</text>
<text x="1242" y="335" font-size="30" textLength="7.8" lengthAdjust="spacingAndGlyphs">{</text><text x="1251.5" y="334" font-style="italic">θ</text><text x="1263.5" y="337.5" font-size="14">0</text><text x="1272.8" y="335" font-size="30" textLength="8" lengthAdjust="spacingAndGlyphs">}</text>
<text x="1209.5" y="375" font-style="italic" textLength="12" lengthAdjust="spacingAndGlyphs">ℑ</text><text x="1221.8" y="375" textLength="14.3" lengthAdjust="spacingAndGlyphs">m</text>
<text x="1242.5" y="376" font-size="30" textLength="7.8" lengthAdjust="spacingAndGlyphs">{</text><text x="1252" y="375" font-style="italic">θ</text><text x="1264" y="378.5" font-size="14">0</text><text x="1273" y="376" font-size="30" textLength="8" lengthAdjust="spacingAndGlyphs">}</text>
</g>
<line x1="176.3" y1="681.3" x2="176.3" y2="910.3" stroke="#d9d9d9" stroke-width="1"/>
<line x1="263.8" y1="681.3" x2="263.8" y2="910.3" stroke="#d9d9d9" stroke-width="1"/>
<line x1="351.3" y1="681.3" x2="351.3" y2="910.3" stroke="#d9d9d9" stroke-width="1"/>
<line x1="438.8" y1="681.3" x2="438.8" y2="910.3" stroke="#d9d9d9" stroke-width="1"/>
<line x1="526.3" y1="681.3" x2="526.3" y2="910.3" stroke="#d9d9d9" stroke-width="1"/>
<line x1="88.8" y1="681.3" x2="562.4" y2="681.3" stroke="#d9d9d9" stroke-width="1"/>
<line x1="88.8" y1="727.1" x2="562.4" y2="727.1" stroke="#d9d9d9" stroke-width="1"/>
<line x1="88.8" y1="772.9" x2="562.4" y2="772.9" stroke="#d9d9d9" stroke-width="1"/>
<line x1="88.8" y1="818.7" x2="562.4" y2="818.7" stroke="#d9d9d9" stroke-width="1"/>
<line x1="88.8" y1="864.5" x2="562.4" y2="864.5" stroke="#d9d9d9" stroke-width="1"/>
<line x1="88.8" y1="910.3" x2="562.4" y2="910.3" stroke="#c4c4c4" stroke-width="1.5"/>
<line x1="88.8" y1="681.3" x2="88.8" y2="910.8" stroke="#a6a6a6" stroke-width="1.6"/>
<text x="75.2" y="688.3" font-size="23.5" text-anchor="end" textLength="10.9" lengthAdjust="spacingAndGlyphs" fill="#1a1a1a">1</text>
<text x="75.2" y="734.1" font-size="23.5" text-anchor="end" textLength="27.2" lengthAdjust="spacingAndGlyphs" fill="#1a1a1a">0.8</text>
<text x="75.2" y="779.9" font-size="23.5" text-anchor="end" textLength="27.2" lengthAdjust="spacingAndGlyphs" fill="#1a1a1a">0.6</text>
<text x="75.2" y="825.7" font-size="23.5" text-anchor="end" textLength="27.2" lengthAdjust="spacingAndGlyphs" fill="#1a1a1a">0.4</text>
<text x="75.2" y="871.5" font-size="23.5" text-anchor="end" textLength="27.2" lengthAdjust="spacingAndGlyphs" fill="#1a1a1a">0.2</text>
<text x="75.2" y="917.3" font-size="23.5" text-anchor="end" textLength="10.9" lengthAdjust="spacingAndGlyphs" fill="#1a1a1a">0</text>
<text x="88.8" y="949.5" font-size="23.5" text-anchor="middle" textLength="10.9" lengthAdjust="spacingAndGlyphs" fill="#1a1a1a">0</text>
<text x="176.3" y="949.5" font-size="23.5" text-anchor="middle" textLength="27.2" lengthAdjust="spacingAndGlyphs" fill="#1a1a1a">0.5</text>
<text x="263.8" y="949.5" font-size="23.5" text-anchor="middle" textLength="10.9" lengthAdjust="spacingAndGlyphs" fill="#1a1a1a">1</text>
<text x="351.3" y="949.5" font-size="23.5" text-anchor="middle" textLength="27.2" lengthAdjust="spacingAndGlyphs" fill="#1a1a1a">1.5</text>
<text x="438.8" y="949.5" font-size="23.5" text-anchor="middle" textLength="10.9" lengthAdjust="spacingAndGlyphs" fill="#1a1a1a">2</text>
<text x="526.3" y="949.5" font-size="23.5" text-anchor="middle" textLength="27.2" lengthAdjust="spacingAndGlyphs" fill="#1a1a1a">2.5</text>
<text x="0" y="0" font-size="23" text-anchor="middle" fill="#1a1a1a" transform="translate(26.3,793.0) rotate(-90)" dominant-baseline="central">[ - ]</text>
<line x1="767.4" y1="681.8" x2="767.4" y2="908.8" stroke="#d9d9d9" stroke-width="1"/>
<line x1="854.0" y1="681.8" x2="854.0" y2="908.8" stroke="#d9d9d9" stroke-width="1"/>
<line x1="940.6" y1="681.8" x2="940.6" y2="908.8" stroke="#d9d9d9" stroke-width="1"/>
<line x1="1027.2" y1="681.8" x2="1027.2" y2="908.8" stroke="#d9d9d9" stroke-width="1"/>
<line x1="1113.8" y1="681.8" x2="1113.8" y2="908.8" stroke="#d9d9d9" stroke-width="1"/>
<line x1="680.8" y1="681.8" x2="1148.7" y2="681.8" stroke="#d9d9d9" stroke-width="1"/>
<line x1="680.8" y1="727.2" x2="1148.7" y2="727.2" stroke="#d9d9d9" stroke-width="1"/>
<line x1="680.8" y1="772.6" x2="1148.7" y2="772.6" stroke="#d9d9d9" stroke-width="1"/>
<line x1="680.8" y1="818.0" x2="1148.7" y2="818.0" stroke="#d9d9d9" stroke-width="1"/>
<line x1="680.8" y1="863.4" x2="1148.7" y2="863.4" stroke="#d9d9d9" stroke-width="1"/>
<line x1="680.8" y1="908.8" x2="1148.7" y2="908.8" stroke="#c4c4c4" stroke-width="1.5"/>
<line x1="680.8" y1="681.8" x2="680.8" y2="909.3" stroke="#a6a6a6" stroke-width="1.6"/>
<text x="670.5" y="688.8" font-size="23.5" text-anchor="end" textLength="10.9" lengthAdjust="spacingAndGlyphs" fill="#1a1a1a">1</text>
<text x="670.5" y="734.2" font-size="23.5" text-anchor="end" textLength="27.2" lengthAdjust="spacingAndGlyphs" fill="#1a1a1a">0.8</text>
<text x="670.5" y="779.6" font-size="23.5" text-anchor="end" textLength="27.2" lengthAdjust="spacingAndGlyphs" fill="#1a1a1a">0.6</text>
<text x="670.5" y="825.0" font-size="23.5" text-anchor="end" textLength="27.2" lengthAdjust="spacingAndGlyphs" fill="#1a1a1a">0.4</text>
<text x="670.5" y="870.4" font-size="23.5" text-anchor="end" textLength="27.2" lengthAdjust="spacingAndGlyphs" fill="#1a1a1a">0.2</text>
<text x="670.5" y="915.8" font-size="23.5" text-anchor="end" textLength="10.9" lengthAdjust="spacingAndGlyphs" fill="#1a1a1a">0</text>
<text x="680.8" y="947.8" font-size="23.5" text-anchor="middle" textLength="10.9" lengthAdjust="spacingAndGlyphs" fill="#1a1a1a">0</text>
<text x="767.4" y="947.8" font-size="23.5" text-anchor="middle" textLength="27.2" lengthAdjust="spacingAndGlyphs" fill="#1a1a1a">0.5</text>
<text x="854.0" y="947.8" font-size="23.5" text-anchor="middle" textLength="10.9" lengthAdjust="spacingAndGlyphs" fill="#1a1a1a">1</text>
<text x="940.6" y="947.8" font-size="23.5" text-anchor="middle" textLength="27.2" lengthAdjust="spacingAndGlyphs" fill="#1a1a1a">1.5</text>
<text x="1027.2" y="947.8" font-size="23.5" text-anchor="middle" textLength="10.9" lengthAdjust="spacingAndGlyphs" fill="#1a1a1a">2</text>
<text x="1113.8" y="947.8" font-size="23.5" text-anchor="middle" textLength="27.2" lengthAdjust="spacingAndGlyphs" fill="#1a1a1a">2.5</text>
<text x="0" y="0" font-size="23" text-anchor="middle" fill="#1a1a1a" transform="translate(622.7,794.0) rotate(-90)" dominant-baseline="central">[ - ]</text>
<path d="M91.1,908.1 C92.6,907.2 96.9,904.3 100.2,902.8 C103.5,901.3 107.3,900.4 110.8,899.0 C114.3,897.6 118.1,896.3 121.4,894.4 C124.7,892.5 127.5,889.1 130.6,887.6 C133.6,886.1 136.7,886.2 139.7,885.3 C142.7,884.4 145.8,883.7 148.8,882.3 C151.8,880.9 154.9,878.2 157.9,876.9 C160.9,875.6 164.0,875.6 167.0,874.7 C170.0,873.8 173.1,872.5 176.1,871.6 C179.1,870.7 182.2,870.1 185.2,869.4 C188.2,868.6 191.2,867.9 194.3,867.1 C197.4,866.3 200.4,865.4 203.5,864.8 C206.6,864.2 209.6,863.7 212.6,863.3 C215.6,862.9 217.6,862.6 221.7,862.2 C225.8,861.8 231.8,861.3 236.9,861.0 C242.0,860.7 246.9,860.4 252.0,860.2 C257.1,860.0 261.7,860.0 267.2,859.8 C272.7,859.6 279.2,859.6 285.0,859.2 C290.8,858.8 295.5,857.5 302.0,857.3 C308.5,857.1 315.6,857.4 324.0,858.0 C332.4,858.6 343.5,860.0 352.7,861.1 C361.9,862.2 370.7,863.3 379.1,864.6 C387.5,865.9 394.1,867.1 403.3,869.0 C412.5,870.9 423.6,873.6 434.2,876.1 C444.8,878.6 456.2,881.8 467.2,883.8 C478.2,885.8 490.3,886.9 500.2,888.2 C510.1,889.6 516.5,890.8 526.6,891.9 C536.7,893.0 555.3,894.3 561.0,894.8" fill="none" stroke="#111" stroke-width="2.25" stroke-dasharray="1.95 2.85" stroke-linecap="butt"/>
<path d="M90.5,681.3 C93.4,681.6 102.3,682.4 107.7,682.9 C113.1,683.4 117.8,683.5 122.9,684.4 C128.0,685.3 132.8,686.7 138.1,688.2 C143.4,689.7 150.0,692.2 154.8,693.5 C159.6,694.8 162.9,694.6 167.0,695.8 C171.1,696.9 174.5,698.6 179.1,700.4 C183.7,702.2 189.2,704.4 194.3,706.4 C199.4,708.4 204.9,710.6 209.5,712.5 C214.1,714.4 217.5,716.1 221.6,717.8 C225.7,719.4 229.2,720.8 233.8,722.4 C238.4,724.0 244.2,726.3 249.0,727.7 C253.8,729.1 257.6,729.6 262.6,730.7 C267.7,731.8 273.5,733.7 279.3,734.5 C285.1,735.3 291.7,735.3 297.3,735.4 C302.9,735.5 307.7,735.5 313.0,735.2 C318.3,734.9 321.9,734.5 329.2,733.5 C336.5,732.5 346.7,731.2 356.6,729.0 C366.5,726.8 378.6,723.0 388.5,720.5 C398.4,718.0 406.7,715.9 415.8,713.7 C424.9,711.5 433.2,709.6 443.1,707.3 C453.0,705.0 465.1,701.9 475.0,700.0 C484.9,698.1 493.2,697.3 502.3,695.9 C511.4,694.5 519.8,692.9 529.7,691.8 C539.7,690.6 556.6,689.5 562.0,689.0" fill="none" stroke="#111" stroke-width="2.7" stroke-dasharray="19.5 9" stroke-linecap="butt"/>
<path d="M90.2,907.5 C90.3,907.5 89.9,907.4 91.1,907.8 C92.2,908.1 94.8,910.1 97.1,909.6 C99.4,909.1 102.0,905.2 104.7,905.0 C107.4,904.8 109.8,908.6 113.1,908.1 C116.4,907.6 121.6,903.1 124.5,902.0 C127.4,900.9 128.4,902.0 130.6,901.2 C132.8,900.4 135.0,897.8 137.4,897.4 C139.8,897.0 142.1,900.4 145.0,899.0 C147.9,897.6 152.0,890.9 154.9,889.1 C157.8,887.3 159.1,889.4 162.4,888.3 C165.7,887.2 171.1,884.7 174.6,882.3 C178.1,879.9 180.9,875.5 183.7,873.9 C186.5,872.2 188.5,873.8 191.3,872.4 C194.1,871.0 197.4,867.9 200.4,865.6 C203.4,863.3 206.2,861.0 209.5,858.7 C212.8,856.4 216.6,854.2 220.2,851.9 C223.8,849.6 227.3,847.1 230.8,845.1 C234.3,843.1 238.4,841.2 241.4,839.7 C244.4,838.2 245.7,837.3 249.0,835.9 C252.3,834.5 257.1,832.8 261.2,831.4 C265.2,830.0 269.3,828.5 273.3,827.6 C277.3,826.7 280.2,826.3 285.0,825.8 C289.8,825.2 295.5,824.3 302.0,824.3 C308.5,824.3 317.4,825.0 324.0,825.9 C330.6,826.8 336.9,828.3 341.7,829.4 C346.5,830.5 348.3,831.1 352.7,832.5 C357.1,833.9 364.1,836.5 368.1,837.5 C372.1,838.5 373.2,837.5 376.9,838.6 C380.6,839.7 386.1,842.6 390.1,844.1 C394.1,845.6 396.7,845.8 401.1,847.4 C405.5,849.0 411.0,851.6 416.5,854.0 C422.0,856.4 427.6,859.4 434.2,861.8 C440.8,864.2 449.6,866.0 456.2,868.4 C462.8,870.8 468.7,874.5 473.8,876.1 C478.9,877.8 482.6,877.3 487.0,878.3 C491.4,879.3 494.3,880.7 500.2,882.2 C506.1,883.7 514.9,885.9 522.2,887.5 C529.6,889.1 537.8,890.8 544.3,891.9 C550.8,893.0 558.2,893.9 561.0,894.3" fill="none" stroke="#111" stroke-width="2.7" stroke-linejoin="round"/>
<path d="M683.7,906.7 C685.7,905.8 692.0,903.6 695.6,901.5 C699.2,899.4 702.0,895.7 705.2,893.8 C708.4,891.9 710.8,890.8 714.8,890.0 C718.8,889.2 725.1,889.6 729.1,889.1 C733.1,888.6 735.5,888.4 738.7,887.1 C741.9,885.8 745.0,883.8 748.2,881.2 C751.4,878.6 755.0,873.7 757.8,871.6 C760.6,869.5 762.6,868.9 765.0,868.5 C767.4,868.1 768.9,868.9 772.1,869.2 C775.3,869.5 780.9,870.8 784.1,870.4 C787.3,870.0 789.2,868.0 791.3,866.8 C793.4,865.6 793.9,864.3 796.5,863.3 C799.1,862.3 802.8,860.7 807.1,860.6 C811.4,860.5 817.2,862.9 822.3,862.8 C827.4,862.7 832.5,860.4 837.5,859.8 C842.5,859.2 845.9,859.5 852.6,859.3 C859.4,859.1 873.4,858.9 878.0,858.7 C882.6,858.5 874.5,858.0 880.0,858.0 C885.5,858.0 900.5,858.0 910.8,858.5 C921.0,859.0 931.2,859.6 941.5,861.1 C951.8,862.6 962.0,865.4 972.3,867.3 C982.5,869.2 992.8,870.7 1003.0,872.4 C1013.2,874.1 1023.5,875.6 1033.8,877.5 C1044.0,879.4 1054.2,881.8 1064.5,883.7 C1074.8,885.6 1085.0,887.4 1095.3,888.8 C1105.5,890.2 1117.1,891.0 1126.0,891.9 C1134.9,892.8 1144.8,893.9 1148.5,894.3" fill="none" stroke="#111" stroke-width="2.25" stroke-dasharray="1.95 2.85" stroke-linecap="butt"/>
<path d="M682.5,682.6 C684.6,682.5 691.4,681.7 694.9,681.8 C698.4,681.9 700.2,682.5 703.3,683.2 C706.4,683.9 710.0,685.8 713.4,686.2 C716.8,686.6 720.1,685.5 723.5,685.5 C726.9,685.5 730.4,685.3 733.6,686.0 C736.8,686.7 739.8,688.4 742.9,689.9 C746.0,691.4 749.2,693.5 752.2,695.3 C755.2,697.1 757.8,699.8 760.6,700.9 C763.4,702.0 766.0,702.0 769.1,702.0 C772.2,702.0 776.0,700.6 779.2,700.9 C782.4,701.2 785.8,702.1 788.5,703.7 C791.2,705.3 792.8,708.2 795.2,710.5 C797.6,712.8 799.8,715.7 802.8,717.2 C805.8,718.7 809.5,718.9 812.9,719.4 C816.3,719.9 819.9,719.3 823.0,720.1 C826.1,720.9 828.7,722.5 831.5,724.0 C834.3,725.5 836.8,727.9 839.9,729.0 C843.0,730.1 846.6,730.3 850.0,730.7 C853.4,731.1 856.9,731.0 860.1,731.6 C863.3,732.2 866.0,733.4 869.4,734.1 C872.8,734.8 876.9,735.5 880.4,735.6 C883.9,735.8 887.2,735.1 890.5,735.0 C893.8,734.9 896.7,735.3 900.1,735.2 C903.5,735.1 906.3,734.8 910.8,734.3 C915.3,733.8 922.1,733.1 927.2,732.3 C932.3,731.4 935.7,730.4 941.5,729.2 C947.3,728.0 955.2,726.6 962.0,725.1 C968.8,723.6 975.7,721.7 982.5,720.0 C989.3,718.3 996.2,716.8 1003.0,714.9 C1009.8,713.0 1016.7,710.5 1023.5,708.7 C1030.3,706.9 1037.2,705.7 1044.0,704.2 C1050.8,702.7 1057.7,700.8 1064.5,699.5 C1071.3,698.2 1078.2,697.3 1085.0,696.4 C1091.8,695.5 1098.7,694.8 1105.5,693.9 C1112.3,693.0 1118.8,692.2 1126.0,691.3 C1133.2,690.4 1145.2,689.0 1149.0,688.6" fill="none" stroke="#111" stroke-width="2.7" stroke-dasharray="19.5 9" stroke-linecap="butt"/>
<path d="M682.5,906.7 C683.9,906.6 688.0,906.0 690.8,906.3 C693.6,906.5 696.8,908.2 699.2,908.2 C701.6,908.2 702.6,907.6 705.2,906.3 C707.8,905.0 711.2,900.9 714.8,900.3 C718.4,899.7 722.7,902.9 726.7,902.7 C730.7,902.5 734.7,901.3 738.7,899.1 C742.7,896.9 746.6,893.1 750.6,889.5 C754.6,885.9 759.0,880.0 762.6,877.6 C766.2,875.2 768.9,875.4 772.1,875.2 C775.3,875.0 778.9,877.0 781.7,876.4 C784.5,875.8 786.5,874.6 788.9,871.6 C791.3,868.6 793.2,862.1 796.0,858.5 C798.8,854.9 802.4,851.7 805.6,850.1 C808.8,848.5 812.0,849.5 815.2,848.9 C818.4,848.3 821.9,847.7 824.7,846.5 C827.5,845.3 829.1,843.9 831.9,841.7 C834.7,839.5 837.9,835.4 841.5,833.4 C845.1,831.4 849.8,830.5 853.4,829.8 C857.0,829.1 859.8,829.9 863.0,829.3 C866.2,828.7 869.7,827.1 872.5,826.2 C875.3,825.4 875.3,824.5 880.0,824.2 C884.7,823.9 893.7,823.7 900.5,824.2 C907.3,824.7 914.2,825.9 921.0,827.3 C927.8,828.7 934.7,830.5 941.5,832.4 C948.3,834.3 955.2,836.4 962.0,838.6 C968.8,840.8 975.7,843.2 982.5,845.8 C989.3,848.4 996.2,851.3 1003.0,854.0 C1009.8,856.7 1016.7,859.7 1023.5,862.2 C1030.3,864.8 1037.2,866.9 1044.0,869.3 C1050.8,871.7 1057.7,874.3 1064.5,876.5 C1071.3,878.7 1078.2,880.8 1085.0,882.7 C1091.8,884.6 1098.7,886.4 1105.5,887.8 C1112.3,889.2 1118.8,890.2 1126.0,891.3 C1133.2,892.3 1144.8,893.6 1148.5,894.1" fill="none" stroke="#111" stroke-width="2.7" stroke-linejoin="round"/>
<text x="53.9" y="662.6" font-size="27.5" font-style="italic" fill="#1a1a1a" textLength="473.9" lengthAdjust="spacingAndGlyphs">(Performance, Reflection, Transmission)</text>
<rect x="534.6" y="652.0" width="12.6" height="1.6" fill="#1a1a1a"/>
<text x="556.3" y="662.6" font-size="27" font-style="italic" fill="#1a1a1a" textLength="19.3" lengthAdjust="spacingAndGlyphs">ω</text>
<text x="562.3" y="658.6" font-size="24" font-style="italic" fill="#1a1a1a">˜</text>
<text x="650.1" y="662.0" font-size="27.5" font-style="italic" fill="#1a1a1a" textLength="473.8" lengthAdjust="spacingAndGlyphs">(Performance, Reflection, Transmission)</text>
<rect x="1133.8" y="651.4" width="12.6" height="1.6" fill="#1a1a1a"/>
<text x="1152.5" y="662.0" font-size="27" font-style="italic" fill="#1a1a1a" textLength="19.3" lengthAdjust="spacingAndGlyphs">ω</text>
<text x="1158.5" y="658.0" font-size="24" font-style="italic" fill="#1a1a1a">˜</text>
<g fill="#1a1a1a" font-size="27">
<text x="240.9" y="986.3" font-style="italic" textLength="19" lengthAdjust="spacingAndGlyphs">ω</text>
<text x="247.4" y="982.8" font-size="24" font-style="italic">˜</text>
<text x="265.3" y="986.3" textLength="16" lengthAdjust="spacingAndGlyphs">=</text>
<text x="290.6" y="986.3" font-style="italic" textLength="17.5" lengthAdjust="spacingAndGlyphs">ω</text>
<path d="M309.6,983.8 L312.5,981.8 L320.7,996.3 L326.7,958.9 L372.7,958.9" fill="none" stroke="#1a1a1a" stroke-width="2.4"/>
<text x="329.0" y="986.3" font-style="italic" textLength="13" lengthAdjust="spacingAndGlyphs">h</text>
<path d="M343.4,993.3 L352.9,965.8" stroke="#1a1a1a" stroke-width="1.6"/>
<text x="354.8" y="986.3" font-style="italic" textLength="15.5" lengthAdjust="spacingAndGlyphs">g</text>
</g>
<g fill="#1a1a1a" font-size="27">
<text x="830.9" y="983.9" font-style="italic" textLength="19" lengthAdjust="spacingAndGlyphs">ω</text>
<text x="837.4" y="980.4" font-size="24" font-style="italic">˜</text>
<text x="855.4" y="983.9" textLength="16" lengthAdjust="spacingAndGlyphs">=</text>
<text x="880.9" y="983.9" font-style="italic" textLength="17.5" lengthAdjust="spacingAndGlyphs">ω</text>
<path d="M899.9,981.4 L902.9,979.4 L911.1,993.9 L917.1,956.5 L963.4,956.5" fill="none" stroke="#1a1a1a" stroke-width="2.4"/>
<text x="919.4" y="983.9" font-style="italic" textLength="13" lengthAdjust="spacingAndGlyphs">h</text>
<path d="M933.9,990.9 L943.5,963.4" stroke="#1a1a1a" stroke-width="1.6"/>
<text x="945.4" y="983.9" font-style="italic" textLength="15.5" lengthAdjust="spacingAndGlyphs">g</text>
</g>
<text x="1251.0" y="989.0" font-size="25" text-anchor="start" font-style="italic" textLength="29" lengthAdjust="spacingAndGlyphs" fill="#1a1a1a" >(c)</text>
<rect x="1024.3" y="734.5" width="266.1" height="105.5" fill="#fff" stroke="#222" stroke-width="1.3"/>
<line x1="1034.3" y1="746.8" x2="1087.4" y2="746.8" stroke="#111" stroke-width="2.3"/>
<line x1="1034.3" y1="784.3" x2="1087.4" y2="784.3" stroke="#111" stroke-width="2.4" stroke-dasharray="9.2 4.8"/>
<line x1="1034.3" y1="819.8" x2="1084" y2="819.8" stroke="#111" stroke-width="2" stroke-dasharray="2 3.5"/>
<text x="1097.3" y="757.5" font-size="24" text-anchor="start" font-style="italic" textLength="121" lengthAdjust="spacingAndGlyphs" fill="#1a1a1a" >Performance</text>
<text x="1096.3" y="790.5" font-size="24" text-anchor="start" font-style="italic" textLength="144.7" lengthAdjust="spacingAndGlyphs" fill="#1a1a1a" >Reflection coef.</text>
<text x="1096.3" y="825.5" font-size="24" text-anchor="start" font-style="italic" textLength="184.5" lengthAdjust="spacingAndGlyphs" fill="#1a1a1a" >Transmission coef.</text>
</svg>
</body></html>
